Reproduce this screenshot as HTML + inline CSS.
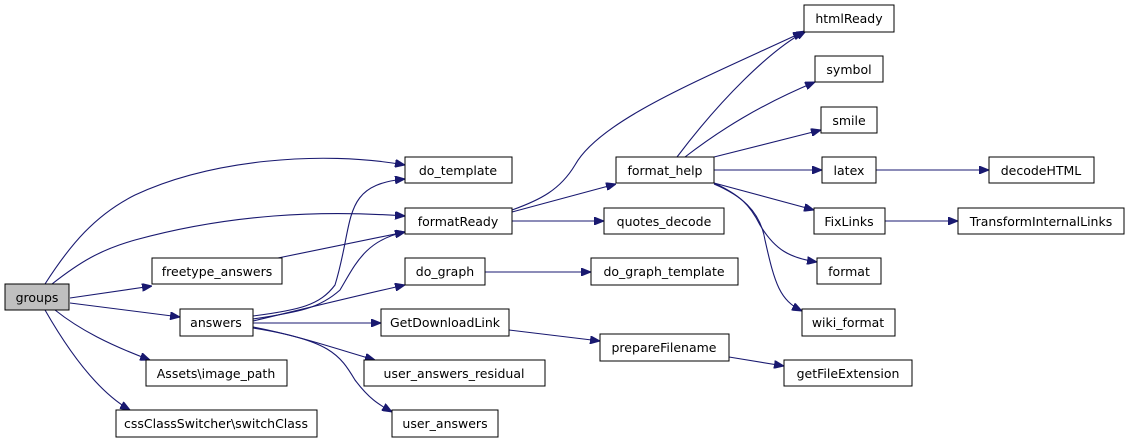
<!DOCTYPE html>
<html><head><meta charset="utf-8"><style>
html,body{margin:0;padding:0;background:#fff;width:1131px;height:443px;overflow:hidden}
svg text{font-family:"DejaVu Sans","Liberation Sans",sans-serif;font-size:12.5px;fill:#000;text-anchor:middle}
.b{fill:#fff;stroke:#000;stroke-width:1}
.e{fill:none;stroke:#191970;stroke-width:1.1}
</style></head><body>
<svg width="1131" height="443" viewBox="0 0 1131 443" xmlns="http://www.w3.org/2000/svg">
<defs><marker id="a" viewBox="0 0 10 8" refX="10" refY="4" markerWidth="10" markerHeight="8" markerUnits="userSpaceOnUse" orient="auto"><path d="M0,0L10,4L0,8z" fill="#191970" stroke="#191970"/></marker></defs>
<g class="e" marker-end="url(#a)">
<path d="M45,284C70,245 95,215 135,195C210,160 320,150 405,165"/>
<path d="M52,284C80,262 100,250 135,240C230,214 320,210 405,216"/>
<path d="M70,298L152,286"/>
<path d="M70,303L180,317"/>
<path d="M55,310C80,330 110,345 150,360"/>
<path d="M45,310C65,345 95,390 130,410"/>
<path d="M278,258L405,232"/>
<path d="M253,316C300,310 320,305 335,285C355,220 340,185 405,179"/>
<path d="M253,319C300,312 320,308 340,290C355,265 365,240 405,232"/>
<path d="M253,321C320,305 360,295 405,285"/>
<path d="M253,323L381,323"/>
<path d="M253,327C300,336 340,350 375,360"/>
<path d="M253,328C330,340 340,355 355,380C370,400 380,405 392,412"/>
<path d="M512,210C540,200 560,190 575,165C600,120 700,80 803,32"/>
<path d="M512,212L616,184"/>
<path d="M512,221L604,221"/>
<path d="M485,272L591,272"/>
<path d="M509,330L600,341"/>
<path d="M729,357L784,366"/>
<path d="M677,157C720,100 770,50 806,31"/>
<path d="M685,157C720,130 760,105 815,82"/>
<path d="M714,157L821,130"/>
<path d="M714,170L822,170"/>
<path d="M714,183L814,210"/>
<path d="M714,183C740,195 750,205 760,225C775,250 790,258 817,262"/>
<path d="M714,184C740,195 760,210 765,240C775,285 780,300 802,311"/>
<path d="M876,170L989,170"/>
<path d="M885,221L958,221"/>
</g>
<rect x="5" y="284" width="64" height="26" fill="#bfbfbf" stroke="#000"/><text x="37" y="302">groups</text>
<rect class="b" x="405" y="157" width="107" height="26"/><text x="458" y="175">do_template</text>
<rect class="b" x="405" y="208" width="107" height="26"/><text x="458" y="226">formatReady</text>
<rect class="b" x="152" y="258" width="130" height="26"/><text x="217" y="276">freetype_answers</text>
<rect class="b" x="180" y="309" width="73" height="27"/><text x="216" y="327">answers</text>
<rect class="b" x="405" y="258" width="80" height="27"/><text x="445" y="276">do_graph</text>
<rect class="b" x="381" y="309" width="128" height="27"/><text x="445" y="327">GetDownloadLink</text>
<rect class="b" x="146" y="360" width="141" height="26"/><text x="216" y="378">Assets\image_path</text>
<rect class="b" x="364" y="360" width="181" height="26"/><text x="454" y="378">user_answers_residual</text>
<rect class="b" x="116" y="410" width="201" height="27"/><text x="216" y="428">cssClassSwitcher\switchClass</text>
<rect class="b" x="392" y="410" width="106" height="27"/><text x="445" y="428">user_answers</text>
<rect class="b" x="804" y="5" width="90" height="27"/><text x="849" y="23">htmlReady</text>
<rect class="b" x="815" y="56" width="68" height="26"/><text x="849" y="74">symbol</text>
<rect class="b" x="821" y="107" width="56" height="26"/><text x="849" y="125">smile</text>
<rect class="b" x="822" y="157" width="54" height="26"/><text x="849" y="175">latex</text>
<rect class="b" x="989" y="157" width="105" height="26"/><text x="1041" y="175">decodeHTML</text>
<rect class="b" x="814" y="208" width="71" height="26"/><text x="849" y="226">FixLinks</text>
<rect class="b" x="958" y="208" width="166" height="26"/><text x="1041" y="226">TransformInternalLinks</text>
<rect class="b" x="817" y="258" width="64" height="26"/><text x="849" y="276">format</text>
<rect class="b" x="802" y="309" width="93" height="27"/><text x="848" y="327">wiki_format</text>
<rect class="b" x="616" y="157" width="98" height="26"/><text x="665" y="175">format_help</text>
<rect class="b" x="604" y="208" width="120" height="26"/><text x="664" y="226">quotes_decode</text>
<rect class="b" x="591" y="258" width="147" height="27"/><text x="664" y="276">do_graph_template</text>
<rect class="b" x="600" y="334" width="129" height="27"/><text x="664" y="352">prepareFilename</text>
<rect class="b" x="784" y="360" width="128" height="26"/><text x="848" y="378">getFileExtension</text>
</svg>
</body></html>
